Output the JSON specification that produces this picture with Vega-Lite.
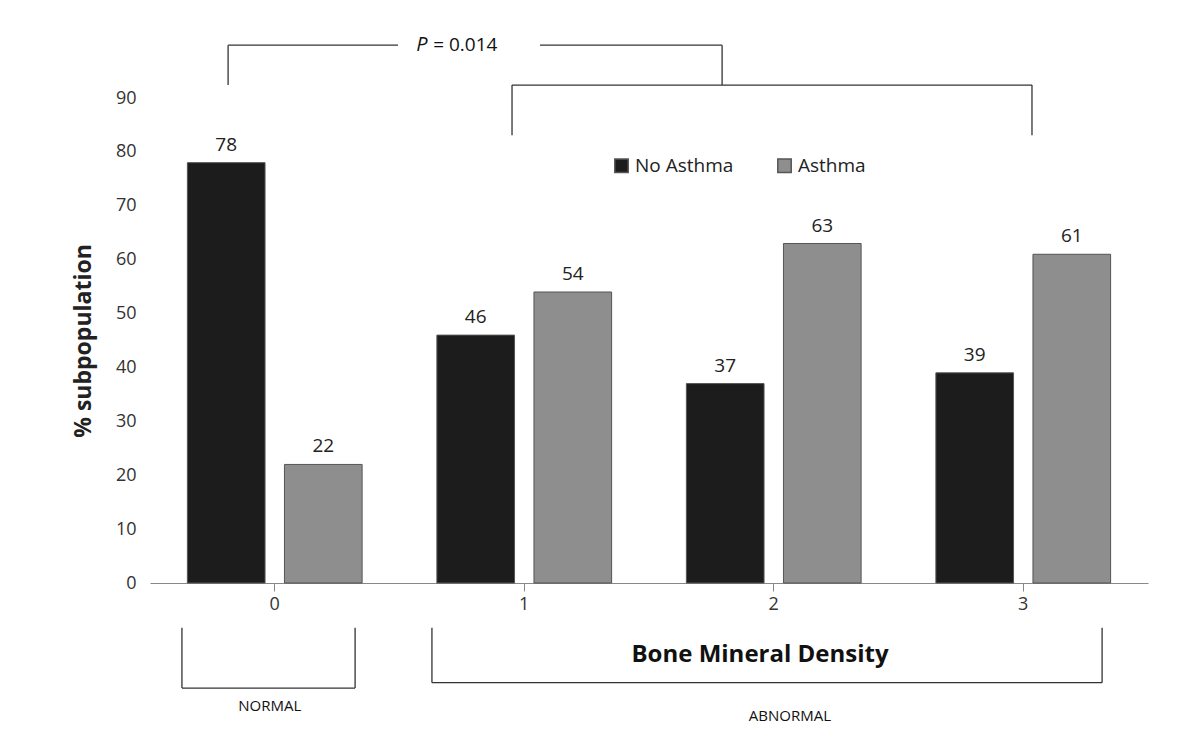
{
  "$schema": "https://vega.github.io/schema/vega-lite/v6.json",
  "width": 998,
  "height": 485,
  "autosize": "none",
  "padding": {"left": 150, "top": 98, "right": 37, "bottom": 165},
  "background": "white",
  "config": {"view": {"stroke": null}, "font": "Open Sans"},
  "datasets": {
    "bars": [
      {"bmd": "0", "group": "No Asthma", "pct": 78},
      {"bmd": "0", "group": "Asthma", "pct": 22},
      {"bmd": "1", "group": "No Asthma", "pct": 46},
      {"bmd": "1", "group": "Asthma", "pct": 54},
      {"bmd": "2", "group": "No Asthma", "pct": 37},
      {"bmd": "2", "group": "Asthma", "pct": 63},
      {"bmd": "3", "group": "No Asthma", "pct": 39},
      {"bmd": "3", "group": "Asthma", "pct": 61}
    ],
    "brackets": [
      {"a": 0.313, "b": 0.313, "lo": 92.4, "hi": 99.8},
      {"a": 0.313, "b": 0.994, "lo": 99.8, "hi": 99.8},
      {"a": 1.563, "b": 2.293, "lo": 99.8, "hi": 99.8},
      {"a": 2.293, "b": 2.293, "lo": 92.4, "hi": 99.8},
      {"a": 1.451, "b": 3.535, "lo": 92.4, "hi": 92.4},
      {"a": 1.451, "b": 1.451, "lo": 83.1, "hi": 92.4},
      {"a": 3.535, "b": 3.535, "lo": 83.1, "hi": 92.4},
      {"a": 0.128, "b": 0.128, "lo": -19.5, "hi": -8.3},
      {"a": 0.822, "b": 0.822, "lo": -19.5, "hi": -8.3},
      {"a": 0.128, "b": 0.822, "lo": -19.5, "hi": -19.5},
      {"a": 1.13, "b": 1.13, "lo": -18.5, "hi": -8.3},
      {"a": 3.816, "b": 3.816, "lo": -18.5, "hi": -8.3},
      {"a": 1.13, "b": 3.816, "lo": -18.5, "hi": -18.5}
    ],
    "small": [
      {"a": 0.48, "v": -22.8, "label": "NORMAL"},
      {"a": 2.565, "v": -24.6, "label": "ABNORMAL"}
    ],
    "big": [{"a": 2.445, "v": -13.4, "label": "Bone Mineral Density"}],
    "pval": [{"a": 1.09, "v": 99.8, "label": "P"}],
    "pnum": [{"a": 1.135, "v": 99.8, "label": "= 0.014"}]
  },
  "resolve": {"scale": {"x": "independent"}, "axis": {"x": "independent"}},
  "layer": [
    {
      "data": {"name": "bars"},
      "layer": [
        {
          "mark": {"type": "bar", "stroke": "#555", "strokeWidth": 1},
          "encoding": {
            "x": {
              "field": "bmd", "type": "nominal",
              "scale": {"paddingInner": 0, "paddingOuter": 0},
              "axis": {"title": null, "labelAngle": 0, "labelFontSize": 18, "labelColor": "#333", "domainColor": "#888", "tickColor": "#888", "tickSize": 8, "labelPadding": 4}
            },
            "xOffset": {"field": "group", "type": "nominal", "sort": ["No Asthma", "Asthma"], "scale": {"paddingInner": 0.2, "paddingOuter": 0.385}},
            "y": {
              "field": "pct", "type": "quantitative",
              "scale": {"domain": [0, 90], "nice": false},
              "axis": {"title": "% subpopulation", "titleFontSize": 23, "titleFontWeight": "bold", "titleColor": "#222", "titlePadding": 20, "labelFontSize": 18, "labelColor": "#333", "tickCount": 10, "grid": false, "domain": false, "ticks": false, "labelPadding": 14}
            },
            "color": {
              "field": "group", "type": "nominal",
              "scale": {"domain": ["No Asthma", "Asthma"], "range": ["#1c1c1c", "#8e8e8e"]},
              "legend": {"title": null, "orient": "none", "legendX": 462, "legendY": 58, "direction": "horizontal", "symbolType": "square", "symbolSize": 180, "labelFontSize": 19, "labelColor": "#222", "columnPadding": 40, "symbolStrokeColor": "#555"}
            }
          }
        },
        {
          "mark": {"type": "text", "dy": -18, "fontSize": 19, "color": "#222"},
          "encoding": {
            "x": {"field": "bmd", "type": "nominal"},
            "xOffset": {"field": "group", "type": "nominal", "sort": ["No Asthma", "Asthma"]},
            "y": {"field": "pct", "type": "quantitative"},
            "text": {"field": "pct", "type": "quantitative"}
          }
        }
      ]
    },
    {
      "data": {"name": "brackets"},
      "mark": {"type": "rule", "color": "#333", "strokeWidth": 1.3},
      "encoding": {
        "x": {"field": "a", "type": "quantitative", "scale": {"domain": [0, 4], "nice": false}, "axis": null},
        "x2": {"field": "b"},
        "y": {"field": "lo", "type": "quantitative"},
        "y2": {"field": "hi"}
      }
    },
    {
      "data": {"name": "small"},
      "mark": {"type": "text", "color": "#111", "fontSize": 15},
      "encoding": {
        "x": {"field": "a", "type": "quantitative", "scale": {"domain": [0, 4], "nice": false}, "axis": null},
        "y": {"field": "v", "type": "quantitative"},
        "text": {"field": "label"}
      }
    },
    {
      "data": {"name": "big"},
      "mark": {"type": "text", "color": "#111", "fontSize": 24, "fontWeight": "bold"},
      "encoding": {
        "x": {"field": "a", "type": "quantitative", "scale": {"domain": [0, 4], "nice": false}, "axis": null},
        "y": {"field": "v", "type": "quantitative"},
        "text": {"field": "label"}
      }
    },
    {
      "data": {"name": "pval"},
      "mark": {"type": "text", "color": "#111", "fontSize": 20, "fontStyle": "italic"},
      "encoding": {
        "x": {"field": "a", "type": "quantitative", "scale": {"domain": [0, 4], "nice": false}, "axis": null},
        "y": {"field": "v", "type": "quantitative"},
        "text": {"field": "label"}
      }
    },
    {
      "data": {"name": "pnum"},
      "mark": {"type": "text", "color": "#111", "fontSize": 19, "align": "left"},
      "encoding": {
        "x": {"field": "a", "type": "quantitative", "scale": {"domain": [0, 4], "nice": false}, "axis": null},
        "y": {"field": "v", "type": "quantitative"},
        "text": {"field": "label"}
      }
    }
  ]
}
